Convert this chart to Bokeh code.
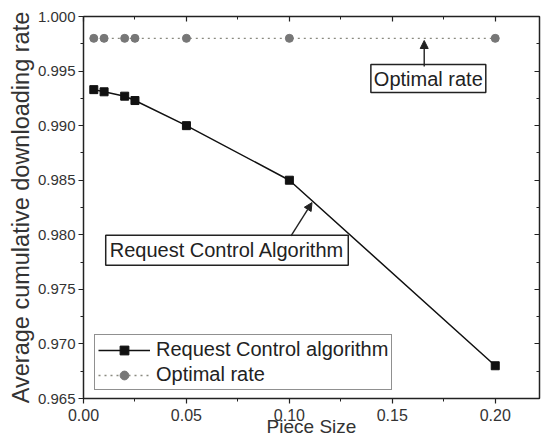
from bokeh.plotting import figure
from bokeh.models import (LinearAxis, SingleIntervalTicker, NumeralTickFormatter,
                          CustomJSTickFormatter, Range1d, Label, Arrow, NormalHead)
from bokeh.embed import file_html
from bokeh.resources import INLINE

piece_size = [0.005, 0.01, 0.02, 0.025, 0.05, 0.10, 0.20]
request_control = [0.9933, 0.9931, 0.9927, 0.9923, 0.9900, 0.9850, 0.9680]
optimal_rate = [0.998, 0.998, 0.998, 0.998, 0.998, 0.998, 0.998]
x_title = "Piece Size"
y_title = "Average cumulative downloading rate"

FONT = "Liberation Sans"

p = figure(frame_width=456, frame_height=382, output_backend="svg", toolbar_location=None,
           x_range=Range1d(0.0, 0.2215), y_range=Range1d(0.965, 1.0),
           min_border_left=83, min_border_right=2, min_border_top=16, min_border_bottom=41)
p.xgrid.visible = False
p.ygrid.visible = False
p.outline_line_color = "black"
p.outline_line_width = 1.2
p.background_fill_color = "white"
p.border_fill_color = "white"

def style_axis(ax):
    ax.axis_line_width = 1.3
    ax.axis_line_color = "#222222"
    ax.major_tick_line_color = "#222222"
    ax.minor_tick_line_color = "#222222"
    ax.major_tick_line_width = 1.2
    ax.minor_tick_line_width = 1.0
    ax.major_label_text_font = FONT
    ax.major_label_text_color = "#333333"
    ax.axis_label_text_font = FONT
    ax.axis_label_text_font_style = "normal"
    ax.axis_label_text_color = "#333333"
    ax.axis_label_text_font_size = "23.5px"

xax = p.xaxis[0]
xax.ticker = SingleIntervalTicker(interval=0.05, num_minor_ticks=2)
xax.formatter = NumeralTickFormatter(format="0.00")
style_axis(xax)
xax.major_label_text_font_size = "16px"
xax.major_tick_out = 5
xax.major_tick_in = 0
xax.minor_tick_out = 3
xax.minor_tick_in = 0
xax.major_label_standoff = 5
xax.axis_label = x_title
xax.axis_label_text_font_size = "19px"
xax.axis_label_standoff = -8

yax = p.yaxis[0]
yax.ticker = SingleIntervalTicker(interval=0.005, num_minor_ticks=2)
yax.formatter = NumeralTickFormatter(format="0.000")
style_axis(yax)
yax.major_label_text_font_size = "15px"
yax.major_tick_out = 5
yax.major_tick_in = 0
yax.minor_tick_out = 3
yax.minor_tick_in = 0
yax.major_label_standoff = 3
yax.axis_label = y_title
yax.axis_label_standoff = 1

blank = CustomJSTickFormatter(code="return '';")

top = LinearAxis(ticker=SingleIntervalTicker(interval=0.05, num_minor_ticks=2),
                 formatter=blank, major_tick_out=0, major_tick_in=5,
                 minor_tick_out=0, minor_tick_in=3, major_label_standoff=0)
style_axis(top)
p.add_layout(top, "above")

right = LinearAxis(ticker=SingleIntervalTicker(interval=0.005, num_minor_ticks=2),
                   formatter=blank, major_tick_out=0, major_tick_in=5,
                   minor_tick_out=0, minor_tick_in=3, major_label_standoff=0)
style_axis(right)
p.add_layout(right, "right")

# series
p.line(piece_size, request_control, line_color="#111111", line_width=1.5,
       legend_label="Request Control algorithm")
p.scatter(piece_size, request_control, marker="square", size=8, fill_color="#111111",
          line_color="#111111", legend_label="Request Control algorithm")
p.line(piece_size, optimal_rate, line_color="#8a8a80", line_width=1.4, line_dash="dotted",
       legend_label="Optimal rate")
p.scatter(piece_size, optimal_rate, marker="circle", size=8, fill_color="#777777",
          line_color="#777777", legend_label="Optimal rate")

leg = p.legend[0]
leg.location = (11, 8)
leg.label_text_font = FONT
leg.label_text_font_size = "20px"
leg.label_text_color = "#222222"
leg.border_line_color = "#222222"
leg.border_line_width = 1.2
leg.glyph_width = 52
leg.glyph_height = 22
leg.label_height = 22
leg.spacing = 2
leg.padding = 3
leg.margin = 0
leg.label_standoff = 6
leg.background_fill_alpha = 1.0

# annotations
lab1 = Label(x=0.1675, y=0.99431, text="Optimal rate", text_align="center",
             text_baseline="middle", text_font=FONT, text_font_size="20px",
             text_color="#222222", border_line_color="#222222", border_line_width=1.5,
             background_fill_color="white", padding=3)
p.add_layout(lab1)
p.add_layout(Arrow(end=NormalHead(size=8, fill_color="#222222", line_color="#222222"),
                   x_start=0.1655, y_start=0.99541, x_end=0.1655, y_end=0.9978,
                   line_color="#222222", line_width=1.4))

lab2 = Label(x=0.0697, y=0.97858, text="Request Control Algorithm", text_align="center",
             text_baseline="middle", text_font=FONT, text_font_size="20px",
             text_color="#222222", border_line_color="#222222", border_line_width=1.5,
             background_fill_color="white", padding=4)
p.add_layout(lab2)
p.add_layout(Arrow(end=NormalHead(size=8, fill_color="#222222", line_color="#222222"),
                   x_start=0.1008, y_start=0.97991, x_end=0.1110, y_end=0.98295,
                   line_color="#222222", line_width=1.4))

open("out.html", "w").write(file_html(p, INLINE))
